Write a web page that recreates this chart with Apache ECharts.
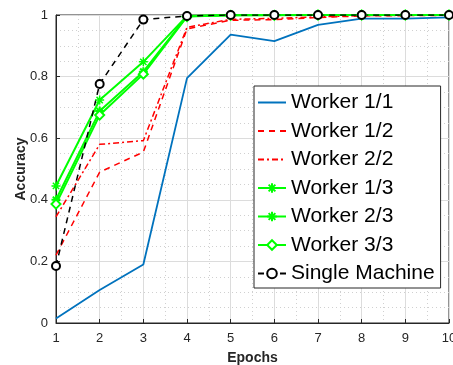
<!DOCTYPE html>
<html>
<head>
<meta charset="utf-8">
<script src="https://cdn.jsdelivr.net/npm/echarts@6/dist/echarts.min.js"></script>
<style>
  html, body { margin: 0; padding: 0; background: #fff; }
  #main { width: 453px; height: 365px; }
</style>
</head>
<body>
<div id="main"></div>
<script>
// values
const epochs = [1, 2, 3, 4, 5, 6, 7, 8, 9, 10];
const worker11 = [0.015, 0.107, 0.19, 0.795, 0.936, 0.915, 0.968, 0.988, 0.988, 0.992];
const worker12 = [0.22, 0.49, 0.555, 0.955, 0.983, 0.985, 0.992, 0.997, 0.998, 0.999];
const worker22 = [0.345, 0.58, 0.592, 0.96, 0.986, 0.989, 0.994, 0.998, 0.999, 0.999];
const worker13 = [0.445, 0.724, 0.848, 0.997, 1, 1, 1, 1, 1, 1];
const worker23 = [0.40, 0.688, 0.816, 0.996, 0.999, 1, 1, 1, 1, 1];
const worker33 = [0.386, 0.675, 0.808, 0.995, 0.999, 0.999, 1, 1, 1, 1];
const single = [0.185, 0.776, 0.985, 0.997, 1, 1, 1, 1, 1, 1];
const yTicks = [0, 0.2, 0.4, 0.6, 0.8, 1];
const names = ['Worker 1/1', 'Worker 1/2', 'Worker 2/2', 'Worker 1/3', 'Worker 2/3', 'Worker 3/3', 'Single Machine'];
const noMarker = ['Worker 1/1', 'Worker 1/2', 'Worker 2/2'];

const font = 'Liberation Sans, Arial, Helvetica, sans-serif';
const asterisk = 'path://M5,0 L5,10 M0,5 L10,5 M1.5,1.5 L8.5,8.5 M1.5,8.5 L8.5,1.5';

function pairs(arr) {
    return epochs.map((e, i) => [e, arr[i]]);
}

function mkSeries(name, arr, color, opts) {
    return Object.assign({
        name: name,
        type: 'line',
        data: pairs(arr),
        symbol: 'none',
        lineStyle: { color: color, width: 1.8 },
        itemStyle: { color: color },
        animation: false
    }, opts || {});
}

let chart = echarts.init(document.getElementById('main'));
let option = {
    backgroundColor: '#fff',
    textStyle: { fontFamily: font },
    grid: {
        left: 56, right: 4, top: 15, bottom: 42,
        outerBoundsMode: 'none',
        containLabel: false,
        show: true, borderColor: '#262626', borderWidth: 1
    },
    xAxis: {
        type: 'value',
        min: 1, max: 10, interval: 1,
        name: 'Epochs',
        nameLocation: 'middle',
        nameGap: 28,
        nameMoveOverlap: false,
        nameTextStyle: { fontSize: 14, fontWeight: 'bold', color: '#262626' },
        axisLine: { lineStyle: { color: '#262626' } },
        axisTick: { inside: true, length: 4, lineStyle: { color: '#262626' } },
        axisLabel: { fontSize: 13, color: '#262626', margin: 9 },
        splitLine: { show: true, lineStyle: { color: '#dcdcdc', width: 1 } },
        minorTick: { show: false, splitNumber: 2 },
        minorSplitLine: { show: true, lineStyle: { color: '#d0d0d0', type: [1, 3] } }
    },
    yAxis: {
        type: 'value',
        min: 0, max: 1, interval: 0.2,
        name: 'Accuracy',
        nameLocation: 'middle',
        nameGap: 28,
        nameMoveOverlap: false,
        nameTextStyle: { fontSize: 14, fontWeight: 'bold', color: '#262626' },
        axisLine: { show: true, lineStyle: { color: '#262626' } },
        axisTick: { show: true, inside: true, length: 4, lineStyle: { color: '#262626' } },
        axisLabel: {
            fontSize: 13, color: '#262626', margin: 8,
            formatter: v => yTicks.includes(+v.toFixed(1)) ? String(+v.toFixed(1)) : ''
        },
        splitLine: { show: true, lineStyle: { color: '#dcdcdc', width: 1 } },
        minorTick: { show: false, splitNumber: 4 },
        minorSplitLine: { show: true, lineStyle: { color: '#d0d0d0', type: [1, 3] } }
    },
    legend: {
        orient: 'vertical',
        left: 254, top: 86,
        padding: [6, 6, 4, 3],
        backgroundColor: '#fff',
        borderColor: '#262626',
        borderWidth: 1,
        itemWidth: 28,
        itemHeight: 12,
        itemGap: 7.5,
        textStyle: { fontSize: 21, color: '#000', fontFamily: font },
        // plain lines get no marker in the legend
        data: names.map(n => noMarker.includes(n) ? { name: n, itemStyle: { opacity: 0 } } : n)
    },
    series: [
        mkSeries('Worker 1/1', worker11, '#0072BD'),
        mkSeries('Worker 1/2', worker12, '#FF0000', {
            lineStyle: { color: '#FF0000', width: 1.5, type: [6, 5] }
        }),
        mkSeries('Worker 2/2', worker22, '#FF0000', {
            lineStyle: { color: '#FF0000', width: 1.5, type: [6, 3, 2, 3] }
        }),
        mkSeries('Worker 1/3', worker13, '#00FF00', {
            lineStyle: { color: '#00FF00', width: 2 },
            symbol: asterisk, symbolSize: 9,
            itemStyle: { color: '#00FF00', borderColor: '#00FF00', borderWidth: 1.5 }
        }),
        mkSeries('Worker 2/3', worker23, '#00FF00', {
            lineStyle: { color: '#00FF00', width: 2 },
            symbol: asterisk, symbolSize: 9,
            itemStyle: { color: '#00FF00', borderColor: '#00FF00', borderWidth: 2 }
        }),
        mkSeries('Worker 3/3', worker33, '#00FF00', {
            lineStyle: { color: '#00FF00', width: 2 },
            symbol: 'emptyDiamond', symbolSize: 9,
            itemStyle: { color: '#00FF00', borderColor: '#00FF00', borderWidth: 1.5 }
        }),
        mkSeries('Single Machine', single, '#000000', {
            lineStyle: { color: '#000000', width: 1.5, type: [6, 5] },
            symbol: 'emptyCircle', symbolSize: 8,
            itemStyle: { color: '#000000', borderColor: '#000000', borderWidth: 1.5 }
        })
    ]
};
chart.setOption(option);
</script>
</body>
</html>
